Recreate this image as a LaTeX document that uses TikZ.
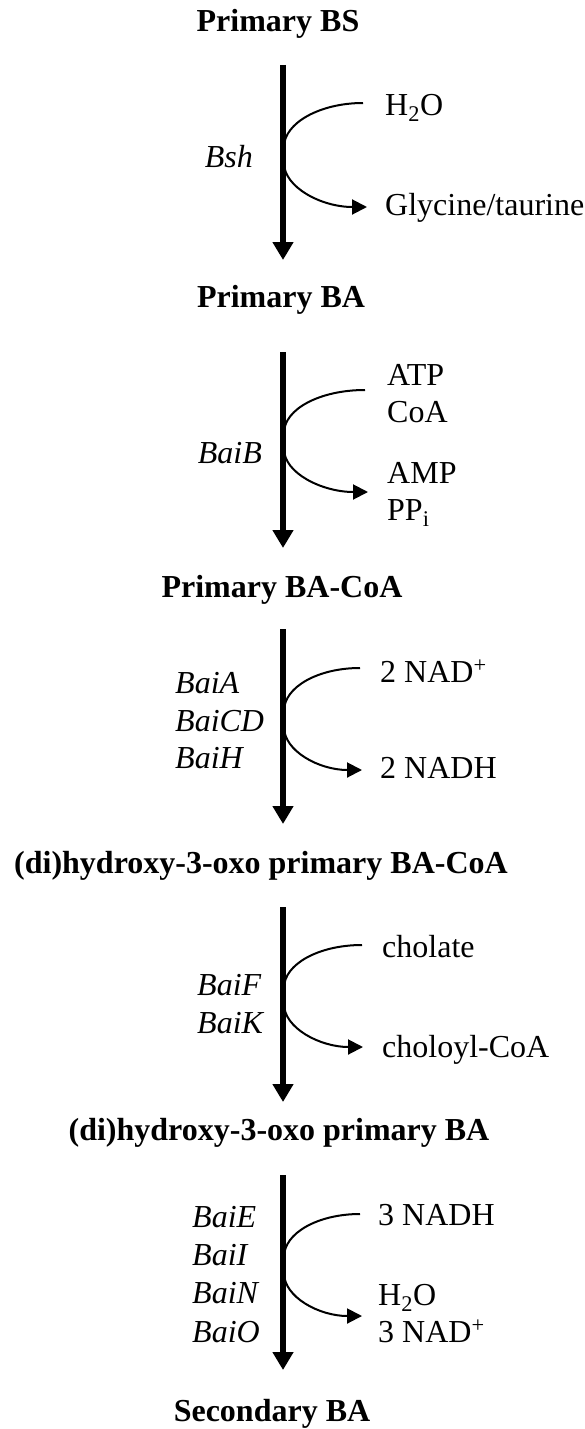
\documentclass[tikz,border=0pt]{standalone}
\usepackage{fontspec}
\setmainfont{Liberation Serif}
\usetikzlibrary{arrows.meta}
\begin{document}
\begin{tikzpicture}[x=1pt,y=-1pt,
  title/.style={font=\fontsize{32}{37}\selectfont\bfseries, anchor=base, inner sep=0pt},
  chem/.style={font=\fontsize{32}{37}\selectfont, anchor=base west, inner sep=0pt},
  gene/.style={font=\fontsize{32}{37}\selectfont\itshape, anchor=base west, inner sep=0pt},
  generight/.style={font=\fontsize{32}{37}\selectfont\itshape, anchor=base east, inner sep=0pt},
  mainarrow/.style={line width=5.5pt, -{Triangle[length=18pt,width=20pt]}},
  sidearrow/.style={line width=2pt, -{Triangle[length=15pt,width=15pt]}}]
\useasboundingbox (0,0) rectangle (584,1429);
% titles
\node[title] (t1) at (278,32) {Primary BS};
\node[title] (t2) at (281,307) {Primary BA};
\node[title] (t3) at (282,597) {Primary BA-CoA};
\node[title] (t4) at (261,873) {(di)hydroxy-3-oxo primary BA-CoA};
\node[title] (t5) at (279,1140) {(di)hydroxy-3-oxo primary BA};
\node[title] (t6) at (272,1421) {Secondary BA};
% main arrows
\coordinate (m1s) at (283,65);   \coordinate (m1e) at (283,260);
\coordinate (m2s) at (283,352);  \coordinate (m2e) at (283,548);
\coordinate (m3s) at (283,629);  \coordinate (m3e) at (283,824);
\coordinate (m4s) at (283,907);  \coordinate (m4e) at (283,1102);
\coordinate (m5s) at (283,1175); \coordinate (m5e) at (283,1370);
\draw[mainarrow] (m1s) -- (m1e);
\draw[mainarrow] (m2s) -- (m2e);
\draw[mainarrow] (m3s) -- (m3e);
\draw[mainarrow] (m4s) -- (m4e);
\draw[mainarrow] (m5s) -- (m5e);
% step 1
\node[chem] (h2o1) at (385,115) {H\textsubscript{2}O};
\node[chem] (gly) at (385,215) {Glycine/taurine};
\node[generight] (bsh) at (253,167) {Bsh};
\coordinate (s1a) at (363,103); \coordinate (s1b) at (367,207);
\draw[sidearrow] (s1a) .. controls (320,103) and (284,123) .. (284,147) -- (284,163) .. controls (284,187) and (321,207) .. (s1b);
% step 2
\node[chem] (atp) at (387,385) {ATP};
\node[chem] (coa) at (387,422) {CoA};
\node[chem] (amp) at (387,483) {AMP};
\node[chem] (ppi) at (387,520) {PP\textsubscript{i}};
\node[generight] (baib) at (262,463) {BaiB};
\coordinate (s2a) at (365,390); \coordinate (s2b) at (368,492);
\draw[sidearrow] (s2a) .. controls (320,390) and (284,409) .. (284,433) -- (284,449) .. controls (284,473) and (322,492) .. (s2b);
% step 3
\node[chem] (nad2) at (380,682) {2 NAD\textsuperscript{+}};
\node[chem] (nadh2) at (380,778) {2 NADH};
\node[gene] (baia) at (175,693) {BaiA};
\node[gene] (baicd) at (175,731) {BaiCD};
\node[gene] (baih) at (175,768) {BaiH};
\coordinate (s3a) at (360,668); \coordinate (s3b) at (362,770);
\draw[sidearrow] (s3a) .. controls (318,668) and (284,687) .. (284,711) -- (284,727) .. controls (284,751) and (319,770) .. (s3b);
% step 4
\node[chem] (chol) at (382,957) {cholate};
\node[chem] (cholcoa) at (382,1057) {choloyl-CoA};
\node[gene] (baif) at (197,995) {BaiF};
\node[gene] (baik) at (197,1033) {BaiK};
\coordinate (s4a) at (362,945); \coordinate (s4b) at (363,1047);
\draw[sidearrow] (s4a) .. controls (319,945) and (284,964) .. (284,988) -- (284,1004) .. controls (284,1028) and (320,1047) .. (s4b);
% step 5
\node[chem] (nadh3) at (378,1225) {3 NADH};
\node[chem] (h2o5) at (378,1305) {H\textsubscript{2}O};
\node[chem] (nad3) at (378,1342) {3 NAD\textsuperscript{+}};
\node[gene] (baie) at (192,1227) {BaiE};
\node[gene] (baii) at (192,1265) {BaiI};
\node[gene] (bain) at (192,1303) {BaiN};
\node[gene] (baio) at (192,1342) {BaiO};
\coordinate (s5a) at (360,1214); \coordinate (s5b) at (362,1316);
\draw[sidearrow] (s5a) .. controls (318,1214) and (284,1233) .. (284,1257) -- (284,1273) .. controls (284,1297) and (319,1316) .. (s5b);
\end{tikzpicture}
\end{document}
